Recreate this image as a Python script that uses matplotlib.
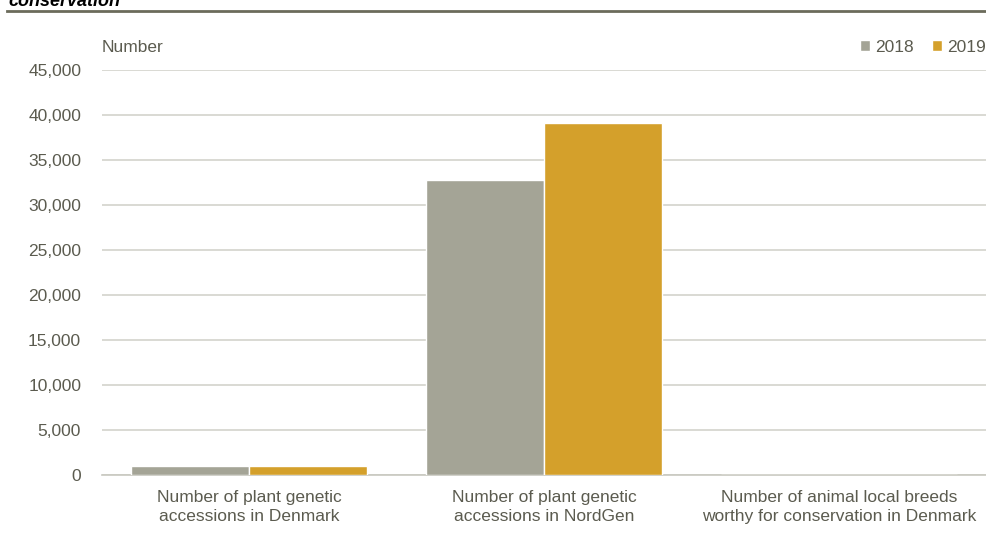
import matplotlib.pyplot as plt
import numpy as np

plt.rcParams["font.family"] = ["Liberation Sans", "DejaVu Sans"]

# --- Data ---------------------------------------------------------------------
CATEGORIES = [
    "Number of plant genetic\naccessions in Denmark",
    "Number of plant genetic\naccessions in NordGen",
    "Number of animal local breeds\nworthy for conservation in Denmark",
]
VALUES_2018 = [1000, 32800, 15]
VALUES_2019 = [1000, 39100, 15]
YEARS = ["2018", "2019"]

GREY = "#A4A496"
GOLD = "#D4A02B"
TEXT = "#5B5B4F"
FS = 12.5

fig = plt.figure(figsize=(9.87, 5.43), dpi=100)
ax = fig.add_axes([102 / 987, 1 - 475 / 543, 885 / 987, 405 / 543])

x = np.arange(len(CATEGORIES))
width = 0.4
ax.bar(x - width / 2, VALUES_2018, width, color=GREY, edgecolor="white",
       linewidth=1, label=YEARS[0], zorder=3)
ax.bar(x + width / 2, VALUES_2019, width, color=GOLD, edgecolor="white",
       linewidth=1, label=YEARS[1], zorder=3)

ax.set_xlim(-0.5, 2.5)
ax.set_ylim(0, 45000)
ax.set_yticks(np.arange(0, 45001, 5000))
ax.set_yticklabels([f"{v:,}" for v in range(0, 45001, 5000)])
ax.set_xticks(x)
ax.set_xticklabels(CATEGORIES, linespacing=1.3)
ax.tick_params(axis="both", length=0, labelsize=FS, colors=TEXT)
ax.tick_params(axis="y", pad=15)
ax.tick_params(axis="x", pad=11)

ax.grid(axis="y", color="#D3D3CC", linewidth=1.2, zorder=0)
for side in ["top", "right", "left"]:
    ax.spines[side].set_visible(False)
ax.spines["bottom"].set_color("#C8C8C0")
ax.spines["bottom"].set_linewidth(1.2)

fig.text(102 / 987, 1 - 47 / 543, "Number", fontsize=FS, color=TEXT,
         va="center", ha="left")

leg = fig.legend(*ax.get_legend_handles_labels(), loc="center right",
                 bbox_to_anchor=(986 / 987, 1 - 47 / 543), ncol=2,
                 frameon=False, fontsize=FS, handlelength=0.55,
                 handleheight=0.55, handletextpad=0.3, columnspacing=1.1,
                 borderaxespad=0, borderpad=0)
for t in leg.get_texts():
    t.set_color(TEXT)

# Clipped title and rule at the top
fig.text(8 / 987, 1 - 1 / 543, "conservation", fontsize=13, fontweight="bold",
         fontstyle="italic", color="#000000", va="center", ha="left")
fig.add_artist(plt.Line2D([7 / 987, 1.0], [1 - 11 / 543, 1 - 11 / 543],
                          color="#6B6B5B", linewidth=2, transform=fig.transFigure))

fig.savefig("out.png", dpi=100)
